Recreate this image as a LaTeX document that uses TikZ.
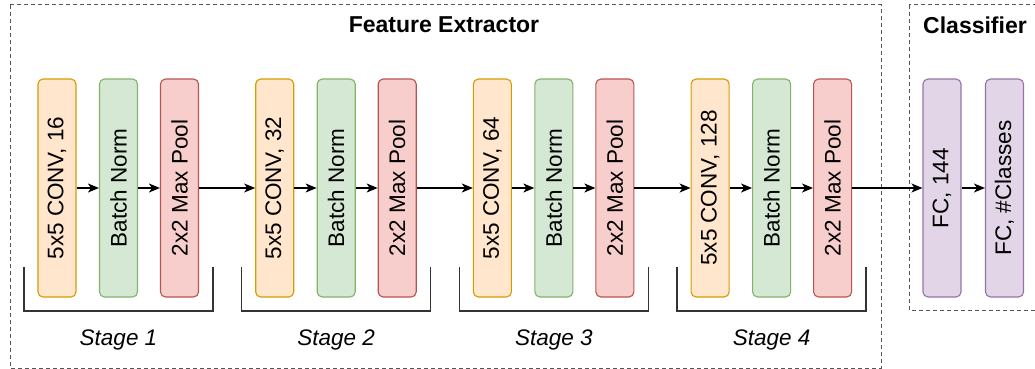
\documentclass[tikz,border=0pt]{standalone}
\usepackage{fontspec}
\setmainfont{Liberation Sans}
\usetikzlibrary{arrows.meta}
\definecolor{convfill}{HTML}{FFE6CC}\definecolor{convdraw}{HTML}{D79B00}
\definecolor{bnfill}{HTML}{D5E8D4}\definecolor{bndraw}{HTML}{82B366}
\definecolor{poolfill}{HTML}{F8CECC}\definecolor{pooldraw}{HTML}{B85450}
\definecolor{fcfill}{HTML}{E1D5E7}\definecolor{fcdraw}{HTML}{9673A6}
\definecolor{dashgray}{HTML}{555555}
\definecolor{brackgray}{HTML}{333333}
\tikzset{
  layer/.style={rectangle, rounded corners=5pt, line width=1.1pt, minimum width=38pt, minimum height=218pt, inner sep=0pt, font=\fontsize{22.5}{27}\selectfont},
  convbox/.style={layer, fill=convfill, draw=convdraw},
  bnbox/.style={layer, fill=bnfill, draw=bndraw},
  poolbox/.style={layer, fill=poolfill, draw=pooldraw},
  fcbox/.style={layer, fill=fcfill, draw=fcdraw},
  flow/.style={line width=1.2pt, -{Stealth[length=11pt, width=9pt, inset=3pt]}},
  plainflow/.style={line width=1.2pt},
  group/.style={draw=dashgray, line width=1pt, dash pattern=on 4pt off 3pt},
  brack/.style={draw=brackgray, line width=1.4pt},
  stagelabel/.style={font=\fontsize{22.5}{27}\selectfont\itshape, inner sep=0pt},
  title/.style={font=\fontsize{23}{27}\selectfont\bfseries, inner sep=0pt}
}
\begin{document}
\begin{tikzpicture}[x=1pt, y=-1pt]
\useasboundingbox (0,0) rectangle (1035,369);
% group boxes
\draw[group] (10,5) rectangle (881,368);
\draw[group] (909,5) rectangle (1060,310);
\node[title] (fetitle) at (444,25) {Feature Extractor};
\node[title, anchor=west] (cltitle) at (923,25) {Classifier};
% stages
\foreach \s/\n [count=\i from 0] in {1/16,2/32,3/64,4/128}{
  \pgfmathsetmacro{\ox}{217.7*\i}
  \node[convbox] (c\s) at (57+\ox,188) {\rotatebox{90}{5x5 CONV, \n}};
  \node[bnbox] (b\s) at (118.5+\ox,188) {\rotatebox{90}{Batch Norm}};
  \node[poolbox] (p\s) at (179.5+\ox,188) {\rotatebox{90}{2x2 Max Pool}};
  \draw[flow] (c\s.east) -- (b\s.west);
  \draw[flow] (b\s.east) -- (p\s.west);
  \coordinate (bl\s) at (24+\ox,267);
  \coordinate (br\s) at (213+\ox,267);
  \draw[brack] (bl\s) -- ++(0,44) -| (br\s);
  \node[stagelabel] (st\s) at (118.5+\ox,340) {Stage \s};
}
\draw[flow] (p1.east) -- (c2.west);
\draw[flow] (p2.east) -- (c3.west);
\draw[flow] (p3.east) -- (c4.west);
% classifier
\node[fcbox] (fc1) at (942,188) {\rotatebox{90}{FC, 144}};
\node[fcbox] (fc2) at (1004.5,188) {\rotatebox{90}{FC, \#Classes}};
\draw[flow] (p4.east) -- (fc1.west);
\draw[flow] (fc1.east) -- (fc2.west);
\end{tikzpicture}
\end{document}
